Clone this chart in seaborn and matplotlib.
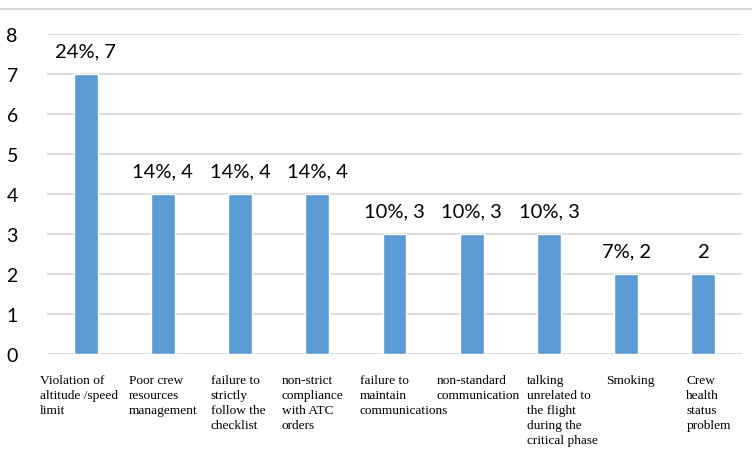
import matplotlib
matplotlib.use("Agg")
import matplotlib.pyplot as plt
import seaborn as sns
import pandas as pd

categories = [
    "Violation of\naltitude /speed\nlimit",
    "Poor crew\nresources\nmanagement",
    "failure to\nstrictly\nfollow the\nchecklist",
    "non-strict\ncompliance\nwith ATC\norders",
    "failure to\nmaintain\ncommunications",
    "non-standard\ncommunication",
    "talking\nunrelated to\nthe flight\nduring the\ncritical phase",
    "Smoking",
    "Crew\nhealth\nstatus\nproblem",
]
values = [7, 4, 4, 4, 3, 3, 3, 2, 2]
value_labels = ["24%, 7", "14%, 4", "14%, 4", "14%, 4", "10%, 3", "10%, 3", "10%, 3", "7%, 2", "2"]
# left edge of each category label, relative to bar centre (category units)
label_left = [-0.59, -0.44, -0.38, -0.46, -0.45, -0.45, -0.28, -0.26, -0.22]
yticks = [0, 1, 2, 3, 4, 5, 6, 7, 8]

sns.set_theme(style="white")
plt.rcParams['font.family'] = ['Lato', 'DejaVu Sans']

df = pd.DataFrame({"cat": [str(i) for i in range(len(categories))], "val": values})

fig = plt.figure(figsize=(7.52, 4.64), dpi=100)
ax = fig.add_axes([47 / 752, 1 - 355 / 464, 695 / 752, 320 / 464])
sns.barplot(data=df, x="cat", y="val", color="#5B9BD5", width=0.31, saturation=1, ax=ax, zorder=3)

ax.set_ylim(0, 8)
ax.set_xlim(-0.5, len(categories) - 0.5)
ax.set_yticks(yticks)
ax.set_yticklabels([str(t) for t in yticks], fontsize=14, color="#000000")
ax.tick_params(axis="y", length=0, pad=21)
ax.set_xticks([])
ax.set_xlabel("")
ax.set_ylabel("")
for t in yticks:
    ax.axhline(t, color="#D9D9D9", lw=1.3, zorder=1)
for s in ax.spines.values():
    s.set_visible(False)

for i, (v, lab) in enumerate(zip(values, value_labels)):
    ax.text(i, v + 0.36, lab, ha="center", va="bottom", fontsize=14.5, color="#000000")

line_step = 0.375
for i, c in enumerate(categories):
    for k, line in enumerate(c.split("\n")):
        ax.text(i + label_left[i], -0.72 - k * line_step, line, ha="left", va="baseline",
                fontsize=9.6, family=["Liberation Serif"], color="#000000", clip_on=False)

fig.add_artist(plt.Line2D([0, 1], [1 - 10 / 464, 1 - 10 / 464], transform=fig.transFigure,
                          color="#D9D9D9", lw=1.5))

fig.savefig("out.png", dpi=100)
